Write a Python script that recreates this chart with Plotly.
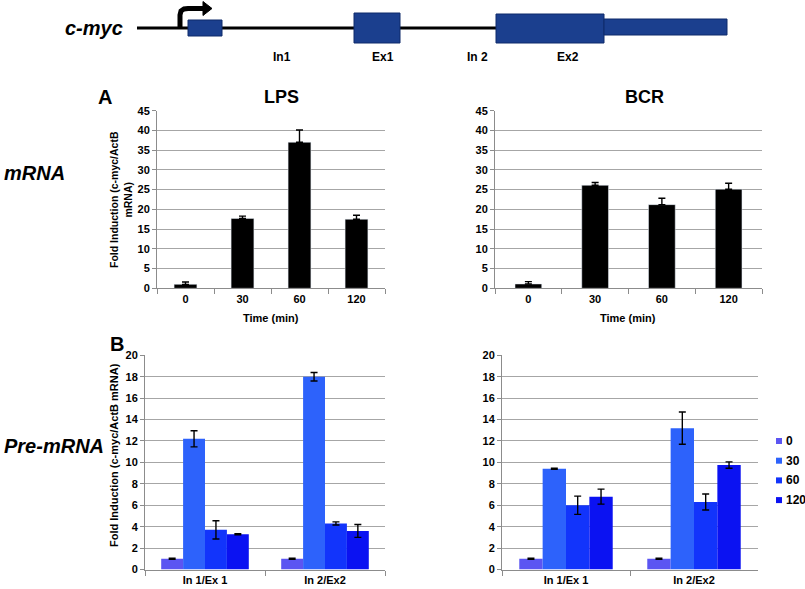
import plotly.graph_objects as go

W, H = 805, 589

# ---------------- data ----------------
time_labels = ["0", "30", "60", "120"]
lps_mrna = [1.0, 17.7, 37.0, 17.5]
lps_mrna_err = [0.6, 0.6, 3.1, 1.0]
bcr_mrna = [1.1, 26.1, 21.2, 25.1]
bcr_mrna_err = [0.6, 0.7, 1.6, 1.5]

regions = ["In 1/Ex 1", "In 2/Ex2"]
series_names = ["0", "30", "60", "120"]
lps_pre = {"0": [1.0, 1.0], "30": [12.2, 18.0], "60": [3.7, 4.3], "120": [3.3, 3.6]}
lps_pre_err = {"0": [0.05, 0.05], "30": [0.75, 0.4], "60": [0.85, 0.15], "120": [0.05, 0.6]}
bcr_pre = {"0": [1.0, 1.0], "30": [9.4, 13.2], "60": [6.0, 6.3], "120": [6.8, 9.75]}
bcr_pre_err = {"0": [0.05, 0.05], "30": [0.05, 1.5], "60": [0.85, 0.75], "120": [0.7, 0.3]}
series_colors = {"0": "#5b55f2", "30": "#2d62fb", "60": "#1234fb", "120": "#0b12f2"}

mrna_ticks = list(range(0, 46, 5))
pre_ticks = list(range(0, 21, 2))


def X(p):
    return p / W


def Y(p):
    return 1 - p / H


FONT = "Liberation Sans, Arial, sans-serif"
fig = go.Figure()

err_style = dict(color="black", thickness=1.4, width=3.5)

# Panel A
fig.add_trace(go.Bar(x=time_labels, y=lps_mrna, width=0.4, marker=dict(color="black"),
                     error_y=dict(type="data", array=lps_mrna_err, arrayminus=[0] * 4,
                                  symmetric=False, **err_style),
                     xaxis="x", yaxis="y", showlegend=False))
fig.add_trace(go.Bar(x=time_labels, y=bcr_mrna, width=0.4, marker=dict(color="black"),
                     error_y=dict(type="data", array=bcr_mrna_err, arrayminus=[0] * 4,
                                  symmetric=False, **err_style),
                     xaxis="x2", yaxis="y2", showlegend=False))

# Panel B
for s in series_names:
    fig.add_trace(go.Bar(x=regions, y=lps_pre[s], name=s, marker=dict(color=series_colors[s], line=dict(width=0)),
                         error_y=dict(type="data", array=lps_pre_err[s], **err_style),
                         xaxis="x3", yaxis="y3", showlegend=False, offsetgroup=s))
for s in series_names:
    fig.add_trace(go.Bar(x=regions, y=bcr_pre[s], name=s, marker=dict(color=series_colors[s], line=dict(width=0)),
                         error_y=dict(type="data", array=bcr_pre_err[s], **err_style),
                         xaxis="x4", yaxis="y4", showlegend=False, offsetgroup=s))

tickfont = dict(family=FONT, size=11, color="black", weight="bold")
GRID = "#a6a6a6"
AX = "#8c8c8c"


def xax(dom, anchor):
    return dict(domain=[X(dom[0]), X(dom[1])], anchor=anchor, type="category",
                showline=True, linecolor=AX, linewidth=1, ticks="outside", tickson="boundaries",
                ticklen=5, tickcolor=AX, tickfont=tickfont, showgrid=False, zeroline=False,
                fixedrange=True, automargin=False)


def yax(dom, anchor, tickvals, rng):
    return dict(domain=[Y(dom[1]), Y(dom[0])], anchor=anchor, range=rng, tickvals=tickvals,
                showline=True, linecolor=AX, linewidth=1, ticks="outside", ticklen=4,
                tickcolor=AX, tickfont=tickfont, showgrid=True, gridcolor=GRID, gridwidth=1,
                zeroline=False, fixedrange=True, automargin=False)


fig.update_layout(
    width=W, height=H, margin=dict(l=0, r=0, t=0, b=0, autoexpand=False),
    paper_bgcolor="white", plot_bgcolor="white",
    barmode="group", bargap=0.27, bargroupgap=0, showlegend=False,
    font=dict(family=FONT, color="black"),
    xaxis=xax((157, 385), "y"), yaxis=yax((110.7, 288.3), "x", mrna_ticks, [0, 45]),
    xaxis2=xax((495, 762), "y2"), yaxis2=yax((110.7, 288.3), "x2", mrna_ticks, [0, 45]),
    xaxis3=xax((145, 385), "y3"), yaxis3=yax((355.3, 569.5), "x3", pre_ticks, [0, 20]),
    xaxis4=xax((502, 758), "y4"), yaxis4=yax((355.3, 569.5), "x4", pre_ticks, [0, 20]),
)

# ---------------- annotations ----------------
ann = []


def txt(x, y, s, size, italic=False, angle=0, xanchor="center", color="black"):
    ann.append(dict(x=X(x), y=Y(y), xref="paper", yref="paper", text=s, showarrow=False,
                    xanchor=xanchor, yanchor="middle", textangle=angle,
                    font=dict(family=FONT, size=size, color=color, weight="bold",
                              style="italic" if italic else "normal")))


txt(125, 28, "c-myc", 20, italic=True, xanchor="right")
txt(282, 57, "In1", 12)
txt(383, 57, "Ex1", 12)
txt(477, 57, "In 2", 12)
txt(568, 57, "Ex2", 12)
txt(105, 97, "A", 20)
txt(117, 344, "B", 20)
txt(281, 97, "LPS", 18)
txt(644, 97, "BCR", 18)
txt(2, 173, "mRNA", 20, italic=True, xanchor="left")
txt(2, 446, "Pre-mRNA", 20, italic=True, xanchor="left")
txt(121, 200, "Fold Induction (c-myc/ActB<br>mRNA)", 10.5, angle=-90)
txt(114, 455, "Fold Induction (c-myc/ActB mRNA)", 11, angle=-90)
txt(271, 318, "Time (min)", 11)
txt(628, 318, "Time (min)", 11)

# ---------------- gene diagram + legend shapes ----------------
BOX_FILL = "#1b3f8e"
BOX_LINE = "#0f2a6a"
shapes = []
shapes.append(dict(type="line", xref="paper", yref="paper", x0=X(137), x1=X(496), y0=Y(28), y1=Y(28),
                   line=dict(color="black", width=3)))


def box(x0, x1, y0, y1, fill=BOX_FILL, line=BOX_LINE, lw=1):
    shapes.append(dict(type="rect", xref="paper", yref="paper", x0=X(x0), x1=X(x1), y0=Y(y1), y1=Y(y0),
                       fillcolor=fill, line=dict(color=line, width=lw)))


def pth(points, close=False):
    d = "M " + " L ".join(f"{X(a):.5f},{Y(b):.5f}" for a, b in points)
    return d + (" Z" if close else "")


# bent arrow
shapes.append(dict(type="path", xref="paper", yref="paper",
                   path=pth([(180, 29), (180, 15), (181, 11), (184, 9), (188, 8.5), (204, 8.5)]),
                   line=dict(color="black", width=5)))
shapes.append(dict(type="path", xref="paper", yref="paper",
                   path=pth([(203, 1.5), (212, 8.5), (203, 15.5)], close=True),
                   fillcolor="black", line=dict(color="black", width=1)))
box(188, 222, 20, 36)
box(354, 400, 13, 43)
box(496, 604, 14, 43)
box(604, 727, 19, 35)

# legend (series colour keys)
for i, s in enumerate(series_names):
    yc = 441 + i * 19.7
    box(776, 782, yc - 3, yc + 3, fill=series_colors[s], line=series_colors[s], lw=0)
    txt(784, yc, s, 12, xanchor="left")

fig.update_layout(shapes=shapes, annotations=ann)

fig.write_html("out.html", config={"displayModeBar": False},
               post_script="document.body.style.margin='0';document.body.style.overflow='hidden';")
